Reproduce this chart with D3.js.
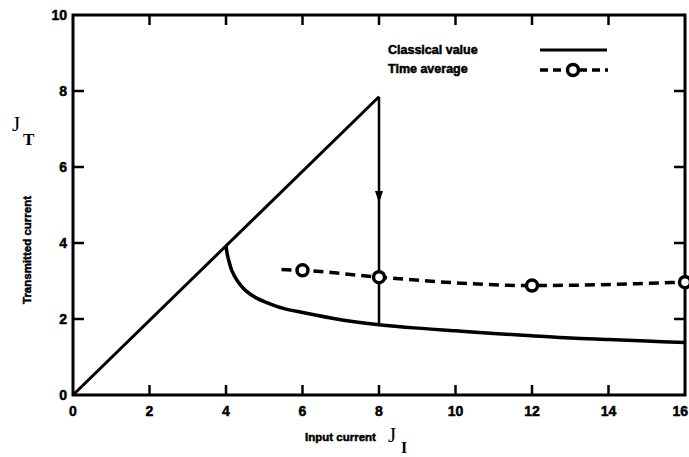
<!DOCTYPE html>
<html>
<head>
<meta charset="utf-8">
<script src="https://cdn.jsdelivr.net/npm/d3@7"></script>
<style>
  html, body { margin: 0; padding: 0; background: #fff; }
  svg { display: block; }
  text { fill: #000; }
  .heavy { stroke: #000; stroke-width: 0.5px; }
</style>
</head>
<body>
<svg id="chart" width="689" height="457"></svg>
<script>
// Axis ticks
const xTicks = [0, 2, 4, 6, 8, 10, 12, 14, 16];
const yTicks = [0, 2, 4, 6, 8, 10];

// Classical value: rising branch up to the switch point
const upperX = [0, 8];
const upperY = [0, 7.85];

// Classical value: drop at J_I = 8
const dropX = [8, 8];
const dropY = [7.85, 1.85];
const arrowAt = [8, 5.05];

// Classical value: lower branch starting at the cusp
const lowerX = [4.0, 4.03, 4.07, 4.15, 4.3, 4.5, 4.8, 5.1, 5.5, 6, 7, 8, 9, 10, 11, 12, 13, 14, 15, 16];
const lowerY = [3.92, 3.72, 3.55, 3.28, 3.0, 2.76, 2.55, 2.42, 2.28, 2.17, 1.98, 1.85, 1.76, 1.69, 1.62, 1.56, 1.50, 1.46, 1.42, 1.38];

// Time average (dashed) with circle markers
const avgX = [5.45, 6, 8, 12, 16];
const avgY = [3.3, 3.28, 3.1, 2.88, 2.97];
const avgMarkerX = [6, 8, 12, 16];
const avgMarkerY = [3.28, 3.1, 2.88, 2.97];

const legendLabels = ["Classical value", "Time average"];

const svg = d3.select("#chart");
const plot = { left: 73, right: 685, top: 15, bottom: 395 };

const x = d3.scaleLinear().domain([0, 16]).range([plot.left, plot.right]);
const y = d3.scaleLinear().domain([0, 10]).range([plot.bottom, plot.top]);

const tickFont = "'Liberation Sans', Arial, sans-serif";

// Frame
svg.append("rect")
  .attr("x", plot.left).attr("y", plot.top)
  .attr("width", plot.right - plot.left).attr("height", plot.bottom - plot.top)
  .attr("fill", "none").attr("stroke", "#000").attr("stroke-width", 3);

// Inward ticks on all four sides
const ticksG = svg.append("g").attr("stroke", "#000").attr("stroke-width", 2.5);
xTicks.slice(1, -1).forEach(t => {
  ticksG.append("line").attr("x1", x(t)).attr("x2", x(t)).attr("y1", plot.bottom).attr("y2", plot.bottom - 10);
  ticksG.append("line").attr("x1", x(t)).attr("x2", x(t)).attr("y1", plot.top).attr("y2", plot.top + 10);
});
yTicks.slice(1, -1).forEach(t => {
  ticksG.append("line").attr("x1", plot.left).attr("x2", plot.left + 11).attr("y1", y(t)).attr("y2", y(t));
  ticksG.append("line").attr("x1", plot.right).attr("x2", plot.right - 11).attr("y1", y(t)).attr("y2", y(t));
});

// Tick labels (the last one is kept inside the page edge)
svg.append("g").selectAll("text").data(xTicks).join("text")
  .attr("class", "heavy")
  .attr("x", (d, i) => i === xTicks.length - 1 ? 688 : x(d)).attr("y", 416)
  .attr("text-anchor", (d, i) => i === xTicks.length - 1 ? "end" : "middle")
  .attr("font-family", tickFont).attr("font-weight", "bold").attr("font-size", 14)
  .text(d => d);
svg.append("g").selectAll("text").data(yTicks).join("text")
  .attr("class", "heavy")
  .attr("x", 67).attr("y", d => y(d) + 5)
  .attr("text-anchor", "end")
  .attr("font-family", tickFont).attr("font-weight", "bold").attr("font-size", 14)
  .text(d => d);

// Axis titles
svg.append("text")
  .attr("class", "heavy")
  .attr("transform", "translate(31,250) rotate(-90)")
  .attr("text-anchor", "middle")
  .attr("font-family", tickFont).attr("font-weight", "bold").attr("font-size", 11.5)
  .text("Transmitted current");
svg.append("text")
  .attr("x", 12).attr("y", 131)
  .attr("font-family", "'Liberation Serif', serif").attr("font-size", 21)
  .text("J");
svg.append("text")
  .attr("x", 23).attr("y", 145)
  .attr("font-family", "'Liberation Serif', serif").attr("font-weight", "bold").attr("font-size", 17)
  .text("T");

svg.append("text")
  .attr("class", "heavy")
  .attr("x", 305).attr("y", 441)
  .attr("font-family", tickFont).attr("font-weight", "bold").attr("font-size", 11.5)
  .text("Input current");
svg.append("text")
  .attr("x", 388).attr("y", 442)
  .attr("font-family", "'Liberation Serif', serif").attr("font-size", 21)
  .text("J");
svg.append("text")
  .attr("x", 401).attr("y", 453)
  .attr("font-family", "'Liberation Serif', serif").attr("font-weight", "bold").attr("font-size", 16)
  .text("I");

// Curves
const line = d3.line().x(d => x(d[0])).y(d => y(d[1]));
const smooth = d3.line().x(d => x(d[0])).y(d => y(d[1])).curve(d3.curveMonotoneX);

svg.append("path")
  .attr("d", line(d3.zip(upperX, upperY)))
  .attr("fill", "none").attr("stroke", "#000").attr("stroke-width", 3);

svg.append("path")
  .attr("d", line(d3.zip(dropX, dropY)))
  .attr("fill", "none").attr("stroke", "#000").attr("stroke-width", 2.5);

// Arrowhead on the drop, pointing down
const ax = x(arrowAt[0]), ay = y(arrowAt[1]);
svg.append("path")
  .attr("d", `M${ax - 4},${ay - 12} L${ax + 4},${ay - 12} L${ax},${ay} Z`)
  .attr("fill", "#000");

svg.append("path")
  .attr("d", d3.line().x(d => x(d[0])).y(d => y(d[1])).curve(d3.curveCatmullRom)(d3.zip(lowerX, lowerY)))
  .attr("fill", "none").attr("stroke", "#000").attr("stroke-width", 3.5);

svg.append("path")
  .attr("d", smooth(d3.zip(avgX, avgY)))
  .attr("fill", "none").attr("stroke", "#000").attr("stroke-width", 3.5)
  .attr("stroke-dasharray", "10,6");

svg.append("g").selectAll("circle").data(d3.zip(avgMarkerX, avgMarkerY)).join("circle")
  .attr("cx", d => x(d[0])).attr("cy", d => y(d[1])).attr("r", 5.5)
  .attr("fill", "#fff").attr("stroke", "#000").attr("stroke-width", 3.5);

// Legend
const legendG = svg.append("g");
legendG.selectAll("text").data(legendLabels).join("text")
  .attr("class", "heavy")
  .attr("x", 388).attr("y", (d, i) => 54 + i * 19)
  .attr("font-family", tickFont).attr("font-weight", "bold").attr("font-size", 12.5)
  .text(d => d);
legendG.append("line")
  .attr("x1", 540).attr("x2", 607).attr("y1", 50).attr("y2", 50)
  .attr("stroke", "#000").attr("stroke-width", 3);
legendG.append("line")
  .attr("x1", 540).attr("x2", 608).attr("y1", 70).attr("y2", 70)
  .attr("stroke", "#000").attr("stroke-width", 3.5).attr("stroke-dasharray", "8,5");
legendG.append("circle")
  .attr("cx", 573).attr("cy", 70).attr("r", 5.5)
  .attr("fill", "#fff").attr("stroke", "#000").attr("stroke-width", 3.5);
</script>
</body>
</html>
